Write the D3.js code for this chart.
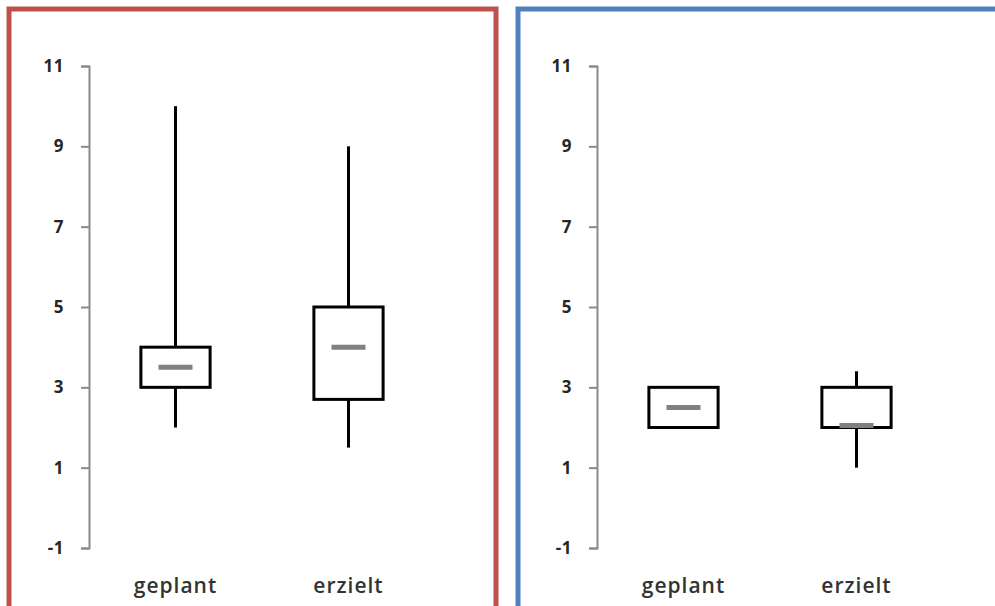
<!DOCTYPE html>
<html>
<head>
<meta charset="utf-8">
<script src="https://cdn.jsdelivr.net/npm/d3@7"></script>
<style>
  html, body { margin: 0; padding: 0; background: #fff; }
  svg { display: block; }
</style>
</head>
<body>
<svg id="chart" width="995" height="606"></svg>
<script>
const categories = ["geplant", "erzielt"];
const yTicks = [-1, 1, 3, 5, 7, 9, 11];
// panel 1 (red frame)
const panel1 = {
  min:    [2, 1.5],
  q1:     [3, 2.7],
  median: [3.5, 4],
  q3:     [4, 5],
  max:    [10, 9]
};
// panel 2 (blue frame)
const panel2 = {
  min:    [2, 1],
  q1:     [2, 2],
  median: [2.5, 2.05],
  q3:     [3, 3],
  max:    [3, 3.4]
};
const panels = [
  { data: panel1, frame: "#C0504D", fx: 9, fw: 487, axisX: 89 },
  { data: panel2, frame: "#4F81BD", fx: 518, fw: 490, axisX: 597 }
];

const svg = d3.select("#chart");
const y = d3.scaleLinear().domain([-1, 11]).range([548, 66]);

panels.forEach(p => {
  // frame
  svg.append("rect")
    .attr("x", p.fx).attr("y", 9)
    .attr("width", p.fw).attr("height", 602)
    .attr("fill", "#fff")
    .attr("stroke", p.frame).attr("stroke-width", 5);

  const g = svg.append("g");
  const x = d3.scaleBand().domain(categories).range([p.axisX, p.axisX + 346]).padding(0);
  const boxW = x.bandwidth() * 0.4;

  // y axis
  const ax = g.append("g").attr("transform", `translate(${p.axisX},0)`)
    .call(d3.axisLeft(y).tickValues(yTicks).tickSize(8).tickPadding(17).tickFormat(d3.format("d")));
  ax.select(".domain").attr("stroke", "#8a8a8a").attr("stroke-width", 2);
  ax.selectAll(".tick line").attr("stroke", "#8a8a8a").attr("stroke-width", 2);
  ax.selectAll(".tick text")
    .attr("fill", "#262626")
    .style("font-family", "'Open Sans', sans-serif")
    .style("font-size", "17px")
    .style("font-weight", "700")
    .style("letter-spacing", "0.5px")
    .text(d => d < 0 ? "-" + Math.abs(d) : d);

  categories.forEach((c, i) => {
    const cx = x(c) + x.bandwidth() / 2;
    const d = p.data;
    // whiskers
    g.append("line").attr("x1", cx).attr("x2", cx)
      .attr("y1", y(d.q3[i])).attr("y2", y(d.max[i]))
      .attr("stroke", "#000").attr("stroke-width", 3);
    g.append("line").attr("x1", cx).attr("x2", cx)
      .attr("y1", y(d.q1[i])).attr("y2", y(d.min[i]))
      .attr("stroke", "#000").attr("stroke-width", 3);
    // box
    g.append("rect")
      .attr("x", cx - boxW / 2).attr("y", y(d.q3[i]))
      .attr("width", boxW).attr("height", y(d.q1[i]) - y(d.q3[i]))
      .attr("fill", "#fff").attr("stroke", "#000").attr("stroke-width", 3);
    // median
    g.append("line")
      .attr("x1", cx - 17).attr("x2", cx + 17)
      .attr("y1", y(d.median[i])).attr("y2", y(d.median[i]))
      .attr("stroke", "#808080").attr("stroke-width", 5);
    // category label
    g.append("text")
      .attr("x", cx).attr("y", 593)
      .attr("text-anchor", "middle")
      .attr("fill", "#333")
      .style("font-family", "'Open Sans', sans-serif")
      .style("font-size", "21px")
      .style("font-weight", "600")
      .style("letter-spacing", "1px")
      .text(c);
  });
});
</script>
</body>
</html>
